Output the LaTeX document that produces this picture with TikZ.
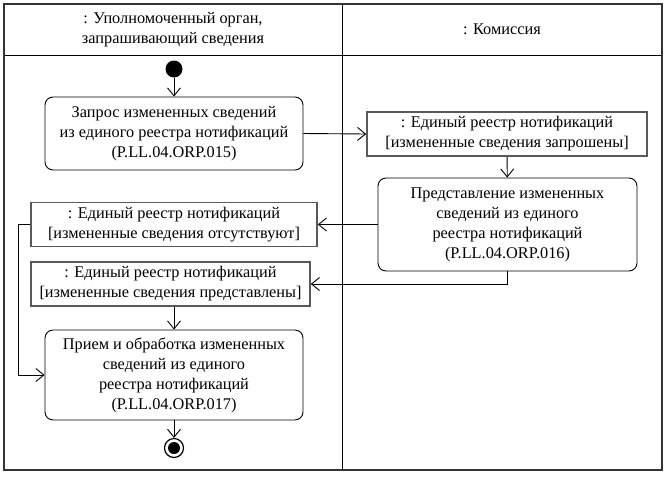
\documentclass[tikz,border=0pt]{standalone}
\usepackage{fontspec}
\setmainfont{Liberation Serif}
\usetikzlibrary{positioning,arrows.meta}

\begin{document}
\begin{tikzpicture}[x=1pt,y=-1pt,every node/.style={font=\fontsize{16.3}{20}\selectfont,align=center,inner sep=0pt},action/.style={draw,rounded corners=8pt,line width=0.9pt,minimum width=258pt},objbox/.style={draw=black!65,line width=1.6pt,minimum height=44pt},flow/.style={draw,line width=0.9pt,-{Straight Barb[length=8pt,width=13pt,line width=0.9pt]}}]
\useasboundingbox (0,0) rectangle (666,477);
\draw[line width=0.9pt] (4,55) -- (662,55) (342,4) -- (342,470);
\draw[line width=1.8pt,draw=black!80] (4,4) rectangle (662,470);
\node(lane1) at (173,30) {: Уполномоченный орган,\\ запрашивающий сведения};
\node(lane2) at (502,29.5) {: Комиссия};
\node[circle,fill=black,minimum size=17pt] (start) at (174,69) {};
\node[action,minimum height=73pt] (req) at (174,133.5) {Запрос измененных сведений\\ из единого реестра нотификаций\\ (P.LL.04.ORP.015)};
\node[objbox,minimum width=280pt] (asked) at (507,134) {: Единый реестр нотификаций\\ {[}измененные сведения запрошены{]}};
\node[action,minimum width=259pt,minimum height=93pt] (give) at (507.5,224.5) {Представление измененных\\ сведений из единого\\ реестра нотификаций\\ (P.LL.04.ORP.016)};
\node[objbox,minimum width=286pt] (none) at (174,224.5) {: Единый реестр нотификаций\\ {[}измененные сведения отсутствуют{]}};
\node[objbox,minimum width=279pt] (given) at (170.5,284) {: Единый реестр нотификаций\\ {[}измененные сведения представлены{]}};
\node[action,minimum height=90pt] (proc) at (174,375) {Прием и обработка измененных\\ сведений из единого\\ реестра нотификаций\\ (P.LL.04.ORP.017)};
\node[circle,draw,line width=1.2pt,minimum size=19pt,path picture={\fill (path picture bounding box.center) circle (6pt);}] (end) at (174,448) {};
\coordinate (bend) at (18,224.5);
\draw[flow] (start) -- (req);
\draw[flow] (req.east) -- (asked.west);
\draw[flow] (asked) -- (give);
\draw[flow] (give.west) -- (none.east);
\draw[flow] (give.south) |- (given.east);
\draw[flow] (proc.north |- given.south) -- (proc.north);
\draw[flow] (none.west) -- (bend) |- (proc.west);
\draw[flow] (proc) -- (end);
\end{tikzpicture}
\end{document}
